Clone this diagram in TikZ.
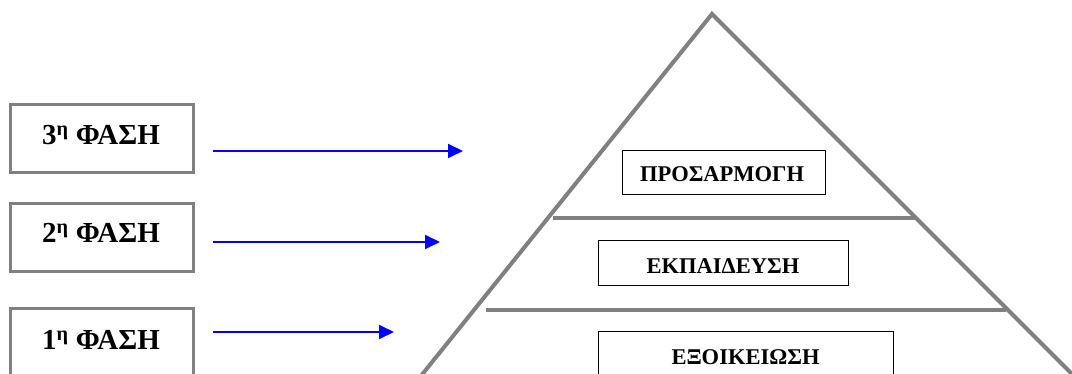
\documentclass[tikz,border=0pt]{standalone}
\usepackage{fontspec}
\setmainfont{Liberation Serif}
\usetikzlibrary{arrows.meta}
\definecolor{edgegray}{RGB}{128,128,128}
\definecolor{arrowblue}{RGB}{0,0,255}
\tikzset{
  phasebox/.style={draw=edgegray, line width=3pt, minimum width=183pt, minimum height=68pt, inner sep=0pt},
  phasetext/.style={anchor=base, font=\bfseries\fontsize{29}{32}\selectfont, inner sep=0pt},
  levelbox/.style={draw=black, line width=1pt, inner sep=0pt},
  leveltext/.style={anchor=base, font=\bfseries\fontsize{22.5}{25}\selectfont, inner sep=0pt},
  pyr/.style={draw=edgegray, line width=4pt},
  phasearrow/.style={draw=arrowblue, line width=1.8pt, -{Triangle[length=15pt,width=14pt]}}
}
\begin{document}
\begin{tikzpicture}[x=1pt,y=-1pt]
  \clip (0,0) rectangle (1072,374);
  \fill[white] (0,0) rectangle (1072,374);

  % pyramid outline and level separators
  \coordinate (apex) at (712,14);
  \coordinate (baseL) at (400,402);
  \coordinate (baseR) at (1100,402);
  \draw[pyr, line join=miter] (baseL) -- (apex) -- (baseR);
  \coordinate (sep1L) at (553,218);
  \coordinate (sep1R) at (916,218);
  \coordinate (sep2L) at (486,310);
  \coordinate (sep2R) at (1006,310);
  \draw[pyr] (sep1L) -- (sep1R);
  \draw[pyr] (sep2L) -- (sep2R);

  % level labels
  \node[levelbox, minimum width=203pt, minimum height=44pt] (lvl3) at (723.5,173) {};
  \node[leveltext] (lvl3t) at (722,182) {ΠΡΟΣΑΡΜΟΓΗ};
  \node[levelbox, minimum width=250pt, minimum height=45pt] (lvl2) at (723,263.5) {};
  \node[leveltext] (lvl2t) at (723,274) {ΕΚΠΑΙΔΕΥΣΗ};
  \node[levelbox, minimum width=295pt, minimum height=45pt] (lvl1) at (745.5,354.5) {};
  \node[leveltext] (lvl1t) at (745.5,365) {ΕΞΟΙΚΕΙΩΣΗ};

  % phase boxes
  \node[phasebox] (ph3) at (101.5,139) {};
  \node[phasetext] (ph3t) at (101,145) {3\textsuperscript{η} ΦΑΣΗ};
  \node[phasebox] (ph2) at (101.5,237.5) {};
  \node[phasetext] (ph2t) at (101,243) {2\textsuperscript{η} ΦΑΣΗ};
  \node[phasebox] (ph1) at (101.5,342.5) {};
  \node[phasetext] (ph1t) at (101,350) {1\textsuperscript{η} ΦΑΣΗ};

  % phase arrows
  \coordinate (a3s) at (213,151);
  \coordinate (a3e) at (463,151);
  \coordinate (a2s) at (213,242);
  \coordinate (a2e) at (440,242);
  \coordinate (a1s) at (213,332);
  \coordinate (a1e) at (394,332);
  \draw[phasearrow] (a3s) -- (a3e);
  \draw[phasearrow] (a2s) -- (a2e);
  \draw[phasearrow] (a1s) -- (a1e);
\end{tikzpicture}
\end{document}
